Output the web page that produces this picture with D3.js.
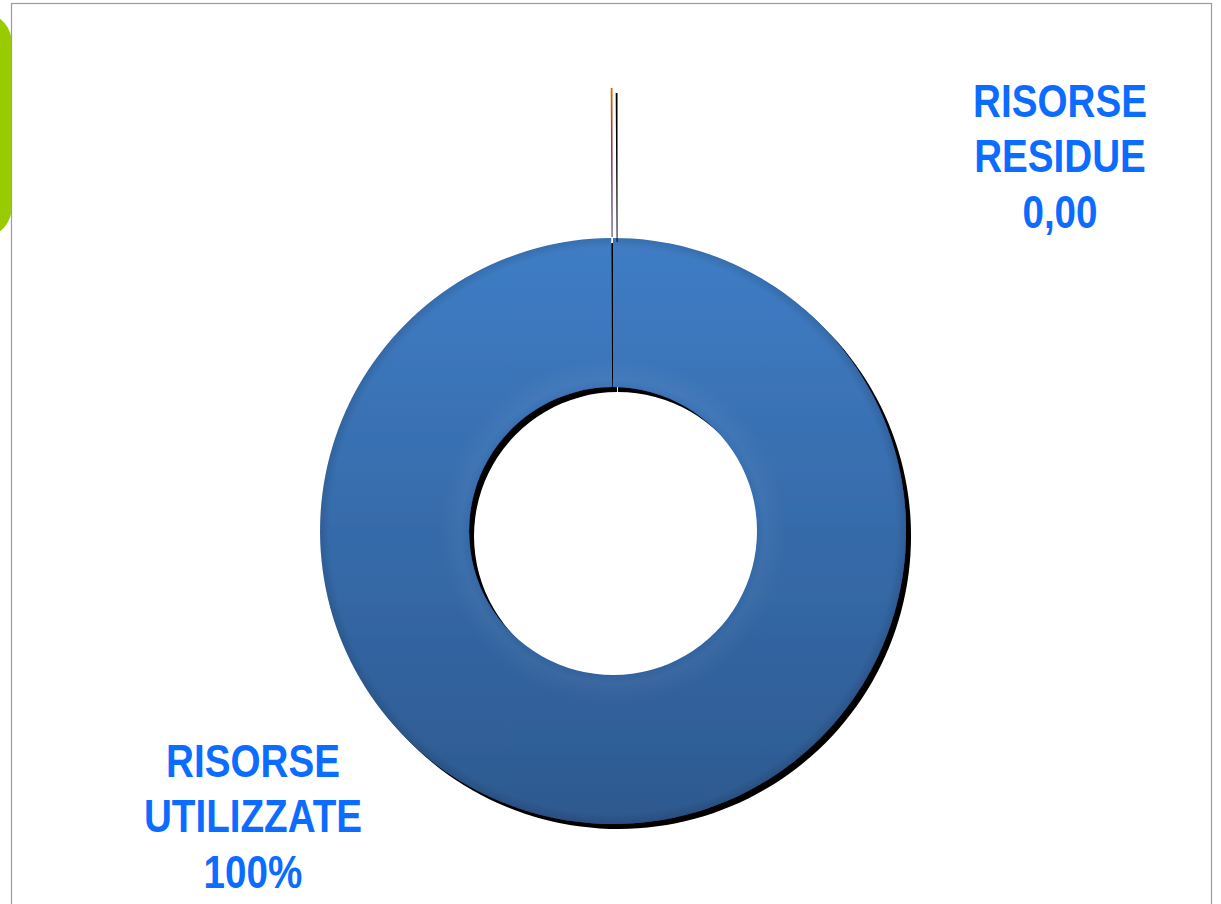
<!DOCTYPE html>
<html>
<head>
<meta charset="utf-8">
<script src="https://cdn.jsdelivr.net/npm/d3@7"></script>
<style>
	html, body { margin: 0; padding: 0; background: #fff; }
	svg { display: block; }
	.label { font-family: "Liberation Sans", Arial, sans-serif; font-weight: bold; font-size: 46px; fill: #0b6cff; }
</style>
</head>
<body>
<div id="root"></div>
<script>
// data
const categories = ['RISORSE UTILIZZATE', 'RISORSE RESIDUE']
const values = [100, 0.1]
const labelLines = [
	['RISORSE', 'UTILIZZATE', '100%'],
	['RISORSE', 'RESIDUE', '0,00']
]

const C = {
	width: 1221,
	height: 904,
	cx: 613,
	cy: 531,
	outer: 293,
	inner: 144,
	explode: 150,
	labelPos: [[253, 777], [1060, 117]],
	lineGap: 55.5,
}

const svg = d3.select('#root').append('svg')
	.attr('width', C.width)
	.attr('height', C.height)

const defs = svg.append('defs')

const gBlue = defs.append('linearGradient').attr('id', 'blue')
	.attr('x1', 0).attr('y1', 0).attr('x2', 0).attr('y2', 1)
gBlue.append('stop').attr('offset', '0%').attr('stop-color', '#3f7dc5')
gBlue.append('stop').attr('offset', '100%').attr('stop-color', '#2d598f')

const gRes = defs.append('linearGradient').attr('id', 'res')
	.attr('x1', 0).attr('y1', 0).attr('x2', 0).attr('y2', 1)
gRes.append('stop').attr('offset', '0%').attr('stop-color', '#d96c00')
gRes.append('stop').attr('offset', '45%').attr('stop-color', '#8a1e4a')
gRes.append('stop').attr('offset', '100%').attr('stop-color', '#241070')

// edge shading for the ring (darker at the rims, like a bevel)
const gBevel = defs.append('radialGradient').attr('id', 'bevel')
	.attr('gradientUnits', 'userSpaceOnUse')
	.attr('cx', 0).attr('cy', 0).attr('r', C.outer)
;[[C.inner / C.outer, 0.0, '#ffffff'], [(C.inner + 8) / C.outer, 0.04, '#ffffff'],
	[(C.inner + 30) / C.outer, 0.0, '#ffffff'],
	[(C.outer - 10) / C.outer, 0.0, '#000000'], [1, 0.12, '#000000']]
	.forEach(s => gBevel.append('stop')
		.attr('offset', s[0]).attr('stop-color', s[2]).attr('stop-opacity', s[1]))

const shadow = defs.append('filter').attr('id', 'shadow')
	.attr('filterUnits', 'userSpaceOnUse')
	.attr('x', -C.width).attr('y', -C.height)
	.attr('width', C.width * 2).attr('height', C.height * 2)
shadow.append('feGaussianBlur').attr('in', 'SourceAlpha').attr('stdDeviation', 0.6).attr('result', 'b')
shadow.append('feOffset').attr('in', 'b').attr('dx', 5).attr('dy', 5).attr('result', 'o')
const merge = shadow.append('feMerge')
merge.append('feMergeNode').attr('in', 'o')
merge.append('feMergeNode').attr('in', 'SourceGraphic')

// green tab behind the frame
svg.append('rect')
	.attr('x', -40).attr('y', 14)
	.attr('width', 52).attr('height', 222)
	.attr('rx', 30)
	.attr('fill', '#99cc00')

svg.append('rect')
	.attr('x', 11.5).attr('y', 3.5)
	.attr('width', 1200).attr('height', 920)
	.attr('fill', '#fff')
	.attr('stroke', '#9898b8')
	.attr('stroke-width', 1.2)

drawDonut()
drawLabels()

function drawDonut() {
	const pie = d3.pie().sort(null)
	const arcs = pie(values)
	const arc = d3.arc().innerRadius(C.inner).outerRadius(C.outer)
	const fills = ['url(#blue)', 'url(#res)']

	const chart = svg.append('g')
		.attr('transform', `translate(${C.cx},${C.cy})`)

	chart.selectAll('path.slice')
		.data(arcs)
		.enter()
		.append('path')
		.attr('class', 'slice')
		.attr('d', arc)
		.attr('fill', (d, i) => fills[i])
		.attr('filter', 'url(#shadow)')
		.attr('transform', (d, i) => {
			if (i === 0) return null
			const a = (d.startAngle + d.endAngle) / 2
			return `translate(${Math.sin(a) * C.explode},${-Math.cos(a) * C.explode})`
		})

	chart.append('path')
		.attr('d', arc(arcs[0]))
		.attr('fill', 'url(#bevel)')
}

function drawLabels() {
	labelLines.forEach((lines, i) => {
		const g = svg.append('g')
			.attr('transform', `translate(${C.labelPos[i][0]},${C.labelPos[i][1]}) scale(0.84,1)`)
		g.selectAll('text')
			.data(lines)
			.enter()
			.append('text')
			.attr('class', 'label')
			.attr('text-anchor', 'middle')
			.attr('y', (d, j) => j * C.lineGap)
			.text(d => d)
	})
}
</script>
</body>
</html>
